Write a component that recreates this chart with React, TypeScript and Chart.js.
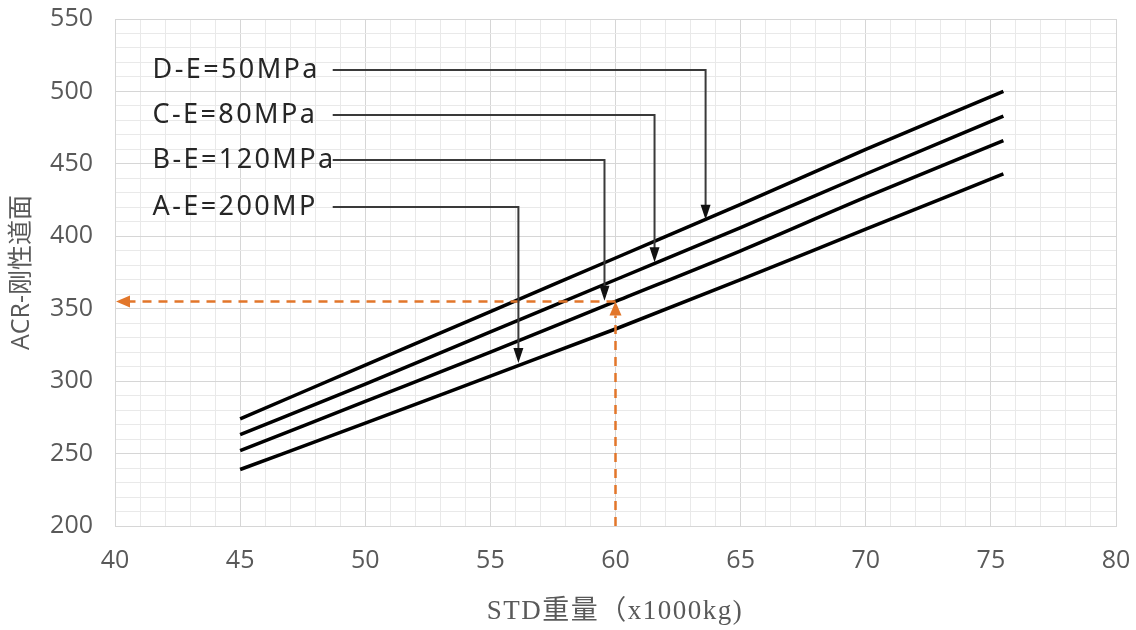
import React, { useEffect, useRef } from 'react';
import { Chart, registerables } from 'chart.js';

Chart.register(...registerables);

// ---- data ----
const xValues = [45, 50, 55, 60, 65, 70, 75.5];
const seriesD = [274, 311, 348, 385, 422, 460, 500];
const seriesC = [263, 298, 334, 370, 406, 443, 483];
const seriesB = [252, 286, 320, 355, 390, 427, 466];
const seriesA = [239, 271, 303.5, 336, 370, 405, 443];

const labelTexts = ['D-E=50MPa', 'C-E=80MPa', 'B-E=120MPa', 'A-E=200MP'];
const labelY = [514.8, 483.7, 452.7, 420.2];
const labelX = 41.5;
const leaderStartX = 48.7;
const leaderX = [63.6, 61.56, 59.56, 56.12];
const leaderTipY = [411.5, 382, 355.5, 312.5];

const refX = 60;
const refY = 355;

const xTitle = 'STD重量（x1000kg)';
const yTitle = 'ACR-刚性道面';

const ORANGE = '#E2762A';
const GRAY_TEXT = '#595959';

function toPoints(ys: number[]) {
  return xValues.map((x, i) => ({ x, y: ys[i] }));
}

const annotPlugin = {
  id: 'annot',
  afterDatasetsDraw(chart: any) {
    const { ctx, scales } = chart;
    const xs = scales.x;
    const ys = scales.y;
    ctx.save();

    // orange reference lines
    const px = xs.getPixelForValue(refX);
    const py = ys.getPixelForValue(refY);
    const x0 = xs.getPixelForValue(xs.min);
    const y0 = ys.getPixelForValue(ys.min);
    const head = 14;
    const hw = 6;
    ctx.strokeStyle = ORANGE;
    ctx.fillStyle = ORANGE;
    ctx.lineWidth = 2.5;
    ctx.setLineDash([9, 7]);
    ctx.beginPath();
    ctx.moveTo(px, py);
    ctx.lineTo(x0 + head, py);
    ctx.stroke();
    ctx.beginPath();
    ctx.moveTo(px, y0);
    ctx.lineTo(px, py + head);
    ctx.stroke();
    ctx.setLineDash([]);
    ctx.beginPath();
    ctx.moveTo(x0 + 1, py);
    ctx.lineTo(x0 + 1 + head, py - hw);
    ctx.lineTo(x0 + 1 + head, py + hw);
    ctx.closePath();
    ctx.fill();
    ctx.beginPath();
    ctx.moveTo(px, py);
    ctx.lineTo(px - hw, py + head);
    ctx.lineTo(px + hw, py + head);
    ctx.closePath();
    ctx.fill();

    // leader lines + labels
    ctx.font = '27px "Noto Sans", "Open Sans", sans-serif';
    (ctx as any).letterSpacing = '2.4px';
    ctx.textBaseline = 'middle';
    ctx.textAlign = 'left';
    for (let i = 0; i < labelTexts.length; i++) {
      const ly = ys.getPixelForValue(labelY[i]);
      const sx = xs.getPixelForValue(leaderStartX);
      const lx = xs.getPixelForValue(leaderX[i]);
      const ty = ys.getPixelForValue(leaderTipY[i]);
      ctx.strokeStyle = '#3a3a3a';
      ctx.lineWidth = 2;
      ctx.beginPath();
      ctx.moveTo(sx, ly);
      ctx.lineTo(lx, ly);
      ctx.lineTo(lx, ty - 12);
      ctx.stroke();
      ctx.fillStyle = '#111';
      ctx.beginPath();
      ctx.moveTo(lx, ty);
      ctx.lineTo(lx - 5, ty - 15);
      ctx.lineTo(lx + 5, ty - 15);
      ctx.closePath();
      ctx.fill();
      ctx.fillStyle = '#262626';
      ctx.fillText(labelTexts[i], xs.getPixelForValue(labelX), ly);
    }
    (ctx as any).letterSpacing = '0px';

    // axis titles
    ctx.fillStyle = GRAY_TEXT;
    ctx.textAlign = 'center';
    ctx.textBaseline = 'middle';
    ctx.font = '27px "Liberation Serif", "Noto Sans CJK SC", serif';
    (ctx as any).letterSpacing = '1.5px';
    ctx.fillText(xTitle, 615, 612);
    ctx.font = '25px "Open Sans", "Noto Sans CJK SC", sans-serif';
    (ctx as any).letterSpacing = '0px';
    ctx.translate(22, (ys.top + ys.bottom) / 2);
    ctx.rotate(-Math.PI / 2);
    ctx.fillText(yTitle, 0, 0);
    ctx.restore();
  },
};

export default function App() {
  const ref = useRef<HTMLCanvasElement | null>(null);
  useEffect(() => {
    if (!ref.current) return;
    const mk = (label: string, ys: number[]) => ({
      label,
      data: toPoints(ys),
      showLine: true,
      borderColor: '#000',
      backgroundColor: '#000',
      borderWidth: 3.5,
      pointRadius: 0,
      cubicInterpolationMode: 'monotone',
    });
    const chart = new Chart(ref.current, {
      type: 'scatter',
      data: {
        datasets: [
          mk('D', seriesD),
          mk('C', seriesC),
          mk('B', seriesB),
          mk('A', seriesA),
        ],
      },
      options: {
        animation: false,
        responsive: false,
        layout: { padding: { top: 19, right: 20, left: 0, bottom: 0 } },
        plugins: { legend: { display: false }, tooltip: { enabled: false } },
        scales: {
          x: {
            type: 'linear',
            min: 40,
            max: 80,
            afterFit: (s: any) => {
              s.height = 104;
              s.paddingLeft = 0;
              s.paddingRight = 0;
            },
            ticks: {
              stepSize: 1,
              autoSkip: false,
              maxRotation: 0,
              padding: 20,
              color: GRAY_TEXT,
              font: { family: '"Open Sans", sans-serif', size: 25 },
              callback: (v: any) => (Number(v) % 5 === 0 ? String(v) : ''),
            },
            grid: {
              drawTicks: false,
              color: (c: any) => (c.tick && c.tick.value % 5 === 0 ? '#d6d6d6' : '#e9e9e9'),
              lineWidth: 1,
            },
            border: { color: '#d6d6d6' },
          },
          y: {
            type: 'linear',
            min: 200,
            max: 550,
            afterFit: (s: any) => {
              s.width = 115;
              s.paddingTop = 0;
              s.paddingBottom = 0;
            },
            ticks: {
              stepSize: 10,
              autoSkip: false,
              padding: 22,
              color: GRAY_TEXT,
              font: { family: '"Open Sans", sans-serif', size: 25 },
              callback: (v: any) => (Number(v) % 50 === 0 ? String(v) : ''),
            },
            grid: {
              drawTicks: false,
              color: (c: any) => (c.tick && c.tick.value % 50 === 0 ? '#d6d6d6' : '#e9e9e9'),
              lineWidth: 1,
            },
            border: { color: '#d6d6d6' },
          },
        },
      },
      plugins: [annotPlugin],
    } as any);
    return () => chart.destroy();
  }, []);
  return (
    <div style={{ position: 'fixed', left: 0, top: 0, width: 1136, height: 630, background: '#fff' }}>
      <canvas ref={ref} width={1136} height={630} />
    </div>
  );
}
